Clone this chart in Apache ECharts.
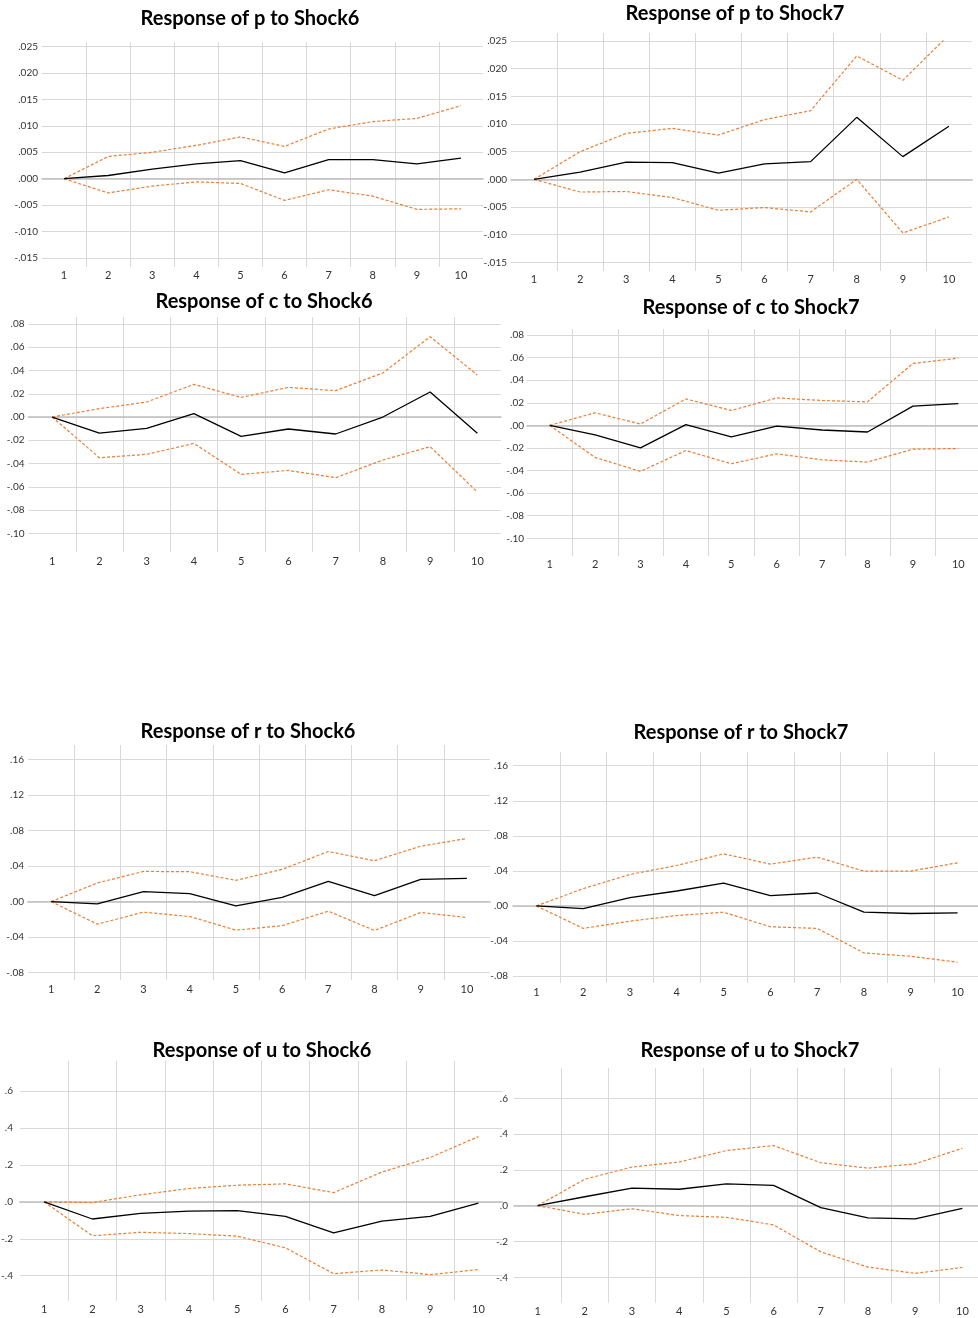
<!DOCTYPE html>
<html>
<head>
<meta charset="utf-8">
<script src="https://cdn.jsdelivr.net/npm/echarts@6/dist/echarts.min.js"></script>
<style>
html, body { margin: 0; padding: 0; background: #fff; }
#chart { width: 978px; height: 1318px; }
</style>
</head>
<body>
<div id="chart"></div>
<script>
const steps = ['1', '2', '3', '4', '5', '6', '7', '8', '9', '10']

// y tick labels of each variable
const pTicks = [-0.015, -0.010, -0.005, 0, 0.005, 0.010, 0.015, 0.020, 0.025]
const cTicks = [-0.10, -0.08, -0.06, -0.04, -0.02, 0, 0.02, 0.04, 0.06, 0.08]
const rTicks = [-0.08, -0.04, 0, 0.04, 0.08, 0.12, 0.16]
const uTicks = [-0.4, -0.2, 0, 0.2, 0.4, 0.6]

// p
const pShock6 = [0, 0.0006, 0.0018, 0.0028, 0.0034, 0.0011, 0.0036, 0.0036, 0.0028, 0.0039]
const pShock6Up = [0, 0.0042, 0.0050, 0.0063, 0.0079, 0.0061, 0.0094, 0.0108, 0.0114, 0.0138]
const pShock6Lo = [0, -0.0027, -0.0014, -0.0006, -0.0009, -0.0041, -0.0021, -0.0033, -0.0058, -0.0057]
const pShock7 = [0, 0.0013, 0.0031, 0.0030, 0.0011, 0.0028, 0.0032, 0.0112, 0.0041, 0.0096]
const pShock7Up = [0, 0.0050, 0.0083, 0.0092, 0.0080, 0.0108, 0.0124, 0.0223, 0.0179, 0.0261]
const pShock7Lo = [0, -0.0023, -0.0022, -0.0033, -0.0056, -0.0051, -0.0059, 0.0000, -0.0097, -0.0068]

// c
const cShock6 = [0, -0.0138, -0.0097, 0.0029, -0.0166, -0.0103, -0.0146, 0.0000, 0.0215, -0.0140]
const cShock6Up = [0, 0.0072, 0.0129, 0.0281, 0.0169, 0.0255, 0.0227, 0.0379, 0.0691, 0.0361]
const cShock6Lo = [0, -0.0350, -0.0321, -0.0227, -0.0493, -0.0459, -0.0522, -0.0370, -0.0255, -0.0645]
const cShock7 = [0, -0.0085, -0.0199, 0.0006, -0.0103, -0.0006, -0.0041, -0.0059, 0.0170, 0.0193]
const cShock7Up = [0, 0.0111, 0.0012, 0.0234, 0.0132, 0.0243, 0.0220, 0.0208, 0.0548, 0.0595]
const cShock7Lo = [0, -0.0284, -0.0407, -0.0223, -0.0340, -0.0252, -0.0305, -0.0325, -0.0211, -0.0205]

// r
const rShock6 = [0, -0.0026, 0.0112, 0.0090, -0.0048, 0.0048, 0.0228, 0.0067, 0.0250, 0.0261]
const rShock6Up = [0, 0.0209, 0.0339, 0.0336, 0.0239, 0.0362, 0.0563, 0.0459, 0.0623, 0.0709]
const rShock6Lo = [0, -0.0254, -0.0119, -0.0168, -0.0321, -0.0272, -0.0108, -0.0325, -0.0123, -0.0179]
const rShock7 = [0, -0.0030, 0.0095, 0.0170, 0.0261, 0.0117, 0.0147, -0.0072, -0.0087, -0.0079]
const rShock7Up = [0, 0.0197, 0.0359, 0.0461, 0.0594, 0.0477, 0.0556, 0.0397, 0.0397, 0.0492]
const rShock7Lo = [0, -0.0257, -0.0174, -0.0110, -0.0072, -0.0238, -0.0257, -0.0537, -0.0575, -0.0643]

// u
const uShock6 = [0, -0.093, -0.063, -0.050, -0.048, -0.079, -0.168, -0.104, -0.079, -0.007]
const uShock6Up = [0, -0.004, 0.038, 0.072, 0.090, 0.097, 0.050, 0.161, 0.240, 0.353]
const uShock6Lo = [0, -0.184, -0.165, -0.172, -0.186, -0.249, -0.389, -0.369, -0.394, -0.367]
const uShock7 = [0, 0.050, 0.098, 0.092, 0.122, 0.114, -0.011, -0.068, -0.074, -0.015]
const uShock7Up = [0, 0.148, 0.216, 0.244, 0.308, 0.336, 0.240, 0.210, 0.234, 0.321]
const uShock7Lo = [0, -0.048, -0.017, -0.055, -0.065, -0.107, -0.258, -0.343, -0.378, -0.345]

// 每个小图的位置 (像素)
const panels = [
  {title: 'Response of p to Shock6', mid: pShock6, up: pShock6Up, lo: pShock6Lo, ticks: pTicks, dec: 3,
    tx: 250, ty: 18, left: 42, right: 483, top: 46.5, bottom: 258, vTop: 42, vBottom: 267, yMargin: 4, xMargin: 3},
  {title: 'Response of p to Shock7', mid: pShock7, up: pShock7Up, lo: pShock7Lo, ticks: pTicks, dec: 3,
    tx: 735, ty: 13, left: 511, right: 972, top: 41, bottom: 262.3, vTop: 33, vBottom: 271, yMargin: 4, xMargin: 3},
  {title: 'Response of c to Shock6', mid: cShock6, up: cShock6Up, lo: cShock6Lo, ticks: cTicks, dec: 2,
    tx: 264, ty: 301, left: 28.5, right: 501, top: 324, bottom: 533.3, vTop: 317, vBottom: 552, yMargin: 4, xMargin: 4},
  {title: 'Response of c to Shock7', mid: cShock7, up: cShock7Up, lo: cShock7Lo, ticks: cTicks, dec: 2,
    tx: 751, ty: 307, left: 527, right: 981, top: 335, bottom: 538.3, vTop: 329, vBottom: 556, yMargin: 3, xMargin: 3},
  {title: 'Response of r to Shock6', mid: rShock6, up: rShock6Up, lo: rShock6Lo, ticks: rTicks, dec: 2,
    tx: 248, ty: 731, left: 28, right: 490, top: 759.3, bottom: 972.7, vTop: 745, vBottom: 980, yMargin: 4, xMargin: 4},
  {title: 'Response of r to Shock7', mid: rShock7, up: rShock7Up, lo: rShock7Lo, ticks: rTicks, dec: 2,
    tx: 741, ty: 732, left: 513, right: 981, top: 765.7, bottom: 976, vTop: 751.7, vBottom: 983, yMargin: 5, xMargin: 4},
  {title: 'Response of u to Shock6', mid: uShock6, up: uShock6Up, lo: uShock6Lo, ticks: uTicks, dec: 1,
    tx: 262, ty: 1050, left: 20, right: 502.5, top: 1091, bottom: 1275.7, vTop: 1060.7, vBottom: 1300.7, yMargin: 7, xMargin: 3},
  {title: 'Response of u to Shock7', mid: uShock7, up: uShock7Up, lo: uShock7Lo, ticks: uTicks, dec: 1,
    tx: 750, ty: 1050, left: 514, right: 986, top: 1098.3, bottom: 1277.3, vTop: 1068, vBottom: 1302.7, yMargin: 6, xMargin: 3}
]

const fontFamily = 'Lato, "Open Sans", sans-serif'
const gridColor = '#d9d9d9'
const orange = '#ed7d31'

// .025 / -.005 这种去掉前导0的格式
const fmt = (v, d) => {
  let s = Math.abs(v) < 1e-12 ? (0).toFixed(d) : v.toFixed(d)
  return s.replace('0.', '.')
}

let title = []
let grid = []
let xAxis = []
let yAxis = []
let series = []
const n = panels.length

panels.forEach((p, i) => {
  title.push({
    text: p.title,
    left: p.tx,
    top: p.ty - 9,
    padding: 0,
    textAlign: 'center',
    textStyle: {fontFamily: fontFamily, fontSize: 20, fontWeight: 'bold', color: '#000'}
  })
  // 主网格
  grid.push({left: p.left, top: p.top, width: p.right - p.left, height: p.bottom - p.top,
    containLabel: false, outerBoundsMode: 'none'})
  xAxis.push({
    type: 'category', data: steps, gridIndex: i, boundaryGap: true,
    axisLine: {show: true, onZero: true, lineStyle: {color: '#bfbfbf', width: 1.6}},
    axisTick: {show: false}, axisLabel: {show: false}, splitLine: {show: false}
  })
  let t = p.ticks
  yAxis.push({
    type: 'value', gridIndex: i, min: t[0], max: t[t.length - 1], interval: t[1] - t[0],
    axisLine: {show: false}, axisTick: {show: false},
    splitLine: {show: true, lineStyle: {color: gridColor, width: 1}},
    axisLabel: {margin: p.yMargin, fontFamily: fontFamily, fontSize: 10, color: '#333',
      formatter: v => fmt(v, p.dec)}
  })
  series.push({
    type: 'line', xAxisIndex: i, yAxisIndex: i, data: p.up, symbol: 'none', z: 3,
    lineStyle: {color: orange, width: 1.2, type: [3, 2]}
  })
  series.push({
    type: 'line', xAxisIndex: i, yAxisIndex: i, data: p.lo, symbol: 'none', z: 3,
    lineStyle: {color: orange, width: 1.2, type: [3, 2]}
  })
  series.push({
    type: 'line', xAxisIndex: i, yAxisIndex: i, data: p.mid, symbol: 'none', z: 4,
    lineStyle: {color: '#000', width: 1.3}
  })
})

// 竖直网格线和x轴标签, 比主网格略高
panels.forEach((p, i) => {
  grid.push({left: p.left, top: p.vTop, width: p.right - p.left, height: p.vBottom - p.vTop,
    containLabel: false, outerBoundsMode: 'none'})
  xAxis.push({
    type: 'category', data: steps, gridIndex: n + i, boundaryGap: true, position: 'bottom',
    axisLine: {show: false}, axisTick: {show: false},
    splitLine: {show: true, showMinLine: false, showMaxLine: false, lineStyle: {color: gridColor, width: 1}},
    axisLabel: {margin: p.xMargin, fontFamily: fontFamily, fontSize: 11, color: '#333', interval: 0}
  })
  yAxis.push({type: 'value', gridIndex: n + i, show: false, min: 0, max: 1, splitLine: {show: false}})
})

const chart = echarts.init(document.getElementById('chart'))
chart.setOption({
  animation: false,
  backgroundColor: '#fff',
  title: title,
  grid: grid,
  xAxis: xAxis,
  yAxis: yAxis,
  series: series
})
</script>
</body>
</html>
